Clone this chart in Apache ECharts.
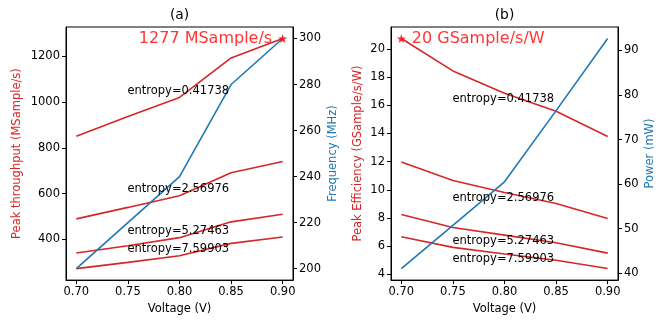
<!DOCTYPE html>
<html>
<head>
<meta charset="utf-8">
<script src="https://cdn.jsdelivr.net/npm/echarts@6/dist/echarts.min.js"></script>
<style>
html,body{margin:0;padding:0;background:#fff;}
#chart{width:663px;height:320px;}
</style>
</head>
<body>
<div id="chart"></div>
<script>
// ---- data ----
const voltage = [0.70, 0.75, 0.80, 0.85, 0.90];
const entropyNames = ['0.41738', '2.56976', '5.27463', '7.59903'];
const throughput0 = [850, 937, 1020, 1192, 1277];
const throughput1 = [490, 540, 591, 691, 740];
const throughput2 = [341, 373, 408, 477, 510];
const throughput3 = [273, 300, 329, 383, 411];
const frequency = [200, 220, 240, 280, 300];
const efficiency0 = [20.74, 18.44, 16.85, 15.57, 13.78];
const efficiency1 = [11.97, 10.66, 9.80, 9.03, 7.96];
const efficiency2 = [8.24, 7.32, 6.78, 6.24, 5.50];
const efficiency3 = [6.66, 5.91, 5.44, 5.00, 4.41];
const power = [41.0, 50.7, 60.5, 76.5, 92.7];
const xTicks = [0.70, 0.75, 0.80, 0.85, 0.90];
const throughputTicks = [400, 600, 800, 1000, 1200];
const frequencyTicks = [200, 220, 240, 260, 280, 300];
const efficiencyTicks = [4, 6, 8, 10, 12, 14, 16, 18, 20];
const powerTicks = [40, 50, 60, 70, 80, 90];
const labelX = 0.75;       // entropy labels start at this voltage
const labelAnchorIdx = 2;  // vertical anchor: value at 0.80 V
const peakThroughput = [[0.90, 1277]];
const peakEfficiency = [[0.70, 20.74]];

const throughputs = [throughput0, throughput1, throughput2, throughput3];
const efficiencies = [efficiency0, efficiency1, efficiency2, efficiency3];

const RED = '#d62728', BLUE = '#1f77b4';
const FONT = 'DejaVu Sans';
const FS = 11.5;
const STAR = 'path://M0,-10 L2.35,-3.24 L9.51,-3.09 L3.8,1.24 L5.88,8.09 L0,4.1 L-5.88,8.09 L-3.8,1.24 L-9.51,-3.09 L-2.35,-3.24 Z';

function pairs(ys){ return voltage.map((v,i)=>[v, ys[i]]); }

function xAxisCfg(gi){
  return {
    type:'value', gridIndex:gi, min:0.69, max:0.91,
    name:'Voltage (V)', nameLocation:'middle', nameGap:22,
    nameTextStyle:{color:'#000', fontFamily:FONT, fontSize:FS},
    axisLine:{show:true, onZero:false, lineStyle:{color:'#000', width:1}},
    axisTick:{show:true, length:4, customValues:xTicks, lineStyle:{color:'#000'}},
    axisLabel:{show:true, customValues:xTicks, margin:6, color:'#000', fontFamily:FONT, fontSize:FS,
               formatter:v=>Number(v).toFixed(2)},
    splitLine:{show:false}
  };
}
function yAxisCfg(gi, pos, min, max, ticks, name, nameColor, gap){
  return {
    type:'value', gridIndex:gi, position:pos, min:min, max:max,
    name:name, nameLocation:'middle', nameGap:gap,
    nameTextStyle:{color:nameColor, fontFamily:FONT, fontSize:FS},
    axisLine:{show:true, onZero:false, lineStyle:{color:'#000', width:1}},
    axisTick:{show:true, length:4, customValues:ticks, lineStyle:{color:'#000'}},
    axisLabel:{show:true, customValues:ticks, margin:6, color:'#000', fontFamily:FONT, fontSize:FS,
               formatter:v=>String(Number(v))},
    splitLine:{show:false}
  };
}

const series = [];
// (a) throughput lines
throughputs.forEach((ys, k)=>{
  series.push({
    type:'line', xAxisIndex:0, yAxisIndex:0, data:pairs(ys),
    showSymbol:false, symbol:'none', lineStyle:{color:RED, width:1.6}, z:3,
    markPoint:{silent:true, animation:false, data:[{
      coord:[labelX, ys[labelAnchorIdx]], symbol:'circle', symbolSize:1,
      itemStyle:{color:'rgba(0,0,0,0)'},
      label:{show:true, formatter:'entropy='+entropyNames[k], position:[0,0], align:'left', verticalAlign:'bottom',
             color:'#000', fontFamily:FONT, fontSize:FS}
    }]}
  });
});
series.push({type:'line', xAxisIndex:0, yAxisIndex:1, data:pairs(frequency),
  showSymbol:false, symbol:'none', lineStyle:{color:BLUE, width:1.6}, z:4});
series.push({type:'scatter', xAxisIndex:0, yAxisIndex:0, data:peakThroughput,
  symbol:STAR, symbolSize:9, itemStyle:{color:'#ff0000'}, z:5,
  label:{show:true, position:'left', distance:6, formatter:'1277 MSample/s', color:'#ff0000', fontFamily:FONT, fontSize:16}});

// (b) efficiency lines
efficiencies.forEach((ys, k)=>{
  series.push({
    type:'line', xAxisIndex:1, yAxisIndex:2, data:pairs(ys),
    showSymbol:false, symbol:'none', lineStyle:{color:RED, width:1.6}, z:3,
    markPoint:{silent:true, animation:false, data:[{
      coord:[labelX, ys[labelAnchorIdx]], symbol:'circle', symbolSize:1,
      itemStyle:{color:'rgba(0,0,0,0)'},
      label:{show:true, formatter:'entropy='+entropyNames[k], position:[0,0], align:'left', verticalAlign:'top',
             color:'#000', fontFamily:FONT, fontSize:FS}
    }]}
  });
});
series.push({type:'line', xAxisIndex:1, yAxisIndex:3, data:pairs(power),
  showSymbol:false, symbol:'none', lineStyle:{color:BLUE, width:1.6}, z:4});
series.push({type:'scatter', xAxisIndex:1, yAxisIndex:2, data:peakEfficiency,
  symbol:STAR, symbolSize:9, itemStyle:{color:'#ff0000'}, z:5,
  label:{show:true, position:'right', distance:6, formatter:'20 GSample/s/W', color:'#ff0000', fontFamily:FONT, fontSize:16}});

const chart = echarts.init(document.getElementById('chart'), null, {renderer:'canvas'});
chart.setOption({
  animation:false,
  backgroundColor:'#fff',
  textStyle:{fontFamily:FONT},
  grid:[
    {left:66, top:27, width:227, height:256, show:true, borderColor:'#000', borderWidth:1, backgroundColor:'transparent', containLabel:false},
    {left:391, top:27, width:227, height:256, show:true, borderColor:'#000', borderWidth:1, backgroundColor:'transparent', containLabel:false}
  ],
  xAxis:[xAxisCfg(0), xAxisCfg(1)],
  yAxis:[
    yAxisCfg(0,'left', 222.8, 1327.2, throughputTicks, 'Peak throughput (MSample/s)', RED, 43),
    yAxisCfg(0,'right', 195, 305, frequencyTicks, 'Frequency (MHz)', BLUE, 34),
    yAxisCfg(1,'left', 3.585, 21.56, efficiencyTicks, 'Peak Efficiency (GSample/s/W)', RED, 27),
    yAxisCfg(1,'right', 38.42, 95.28, powerTicks, 'Power (mW)', BLUE, 26)
  ],
  graphic:[
    {type:'text', x:179.5, y:15.5, style:{text:'(a)', textAlign:'center', textVerticalAlign:'middle', fill:'#000', font:'13.8px "DejaVu Sans"'}},
    {type:'text', x:504.5, y:15.5, style:{text:'(b)', textAlign:'center', textVerticalAlign:'middle', fill:'#000', font:'13.8px "DejaVu Sans"'}}
  ],
  series:series
});
</script>
</body>
</html>
